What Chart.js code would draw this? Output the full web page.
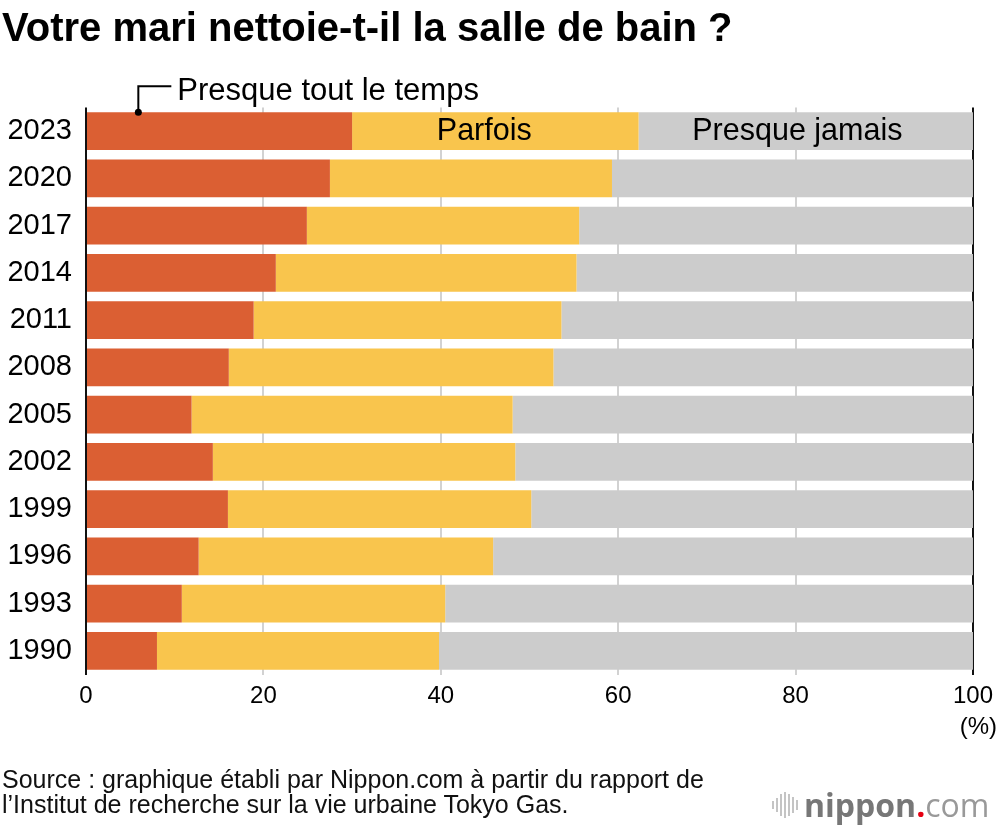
<!DOCTYPE html>
<html>
<head>
<meta charset="utf-8">
<script src="https://cdn.jsdelivr.net/npm/chart.js@4"></script>
<style>
  body { margin: 0; background: #fff; font-family: "Liberation Sans", Arial, Helvetica, sans-serif; }
  #wrap { position: relative; width: 1000px; height: 830px; overflow: hidden; }
  #chart { position: absolute; left: 0; top: 0; }
  #title { position: absolute; left: 2px; top: 7px; font-size: 40px; font-weight: bold; line-height: 1; color: #000; white-space: nowrap; }
  #source { position: absolute; left: 2px; top: 767px; font-size: 25px; line-height: 25px; color: #111; white-space: nowrap; }
  #logo { position: absolute; left: 772px; top: 788px; height: 34px; display: flex; align-items: center; white-space: nowrap; font-family: "Open Sans", sans-serif; }
  #logo .bars { display: flex; align-items: center; gap: 2px; margin-right: 6px; }
  #logo .bars span { display: block; width: 2px; background: #c4c4c4; }
  #logo .n { font-size: 32px; font-weight: bold; color: #777; line-height: 1; }
  #logo .dot { font-size: 32px; font-weight: bold; color: #e60012; line-height: 1; }
  #logo .c { font-size: 32px; color: #999; line-height: 1; }
</style>
</head>
<body>
<div id="wrap">
  <canvas id="chart" width="1000" height="830"></canvas>
  <div id="title">Votre mari nettoie-t-il la salle de bain ?</div>
  <div id="source">Source : graphique établi par Nippon.com à partir du rapport de<br>l’Institut de recherche sur la vie urbaine Tokyo Gas.</div>
  <div id="logo">
    <div class="bars">
      <span style="height:8px"></span><span style="height:14px"></span><span style="height:22px"></span><span style="height:26px"></span><span style="height:22px"></span><span style="height:16px"></span><span style="height:10px"></span>
    </div>
    <span class="n">nippon</span><span class="dot">.</span><span class="c">com</span>
  </div>
</div>
<script>
// survey years, top to bottom
const years = ["2023", "2020", "2017", "2014", "2011", "2008", "2005", "2002", "1999", "1996", "1993", "1990"];
// % of answers
const almostAlways = [30.0, 27.5, 24.9, 21.4, 18.9, 16.1, 11.9, 14.3, 16.0, 12.7, 10.8, 8.0];
const sometimes = [32.3, 31.8, 30.7, 33.9, 34.7, 36.6, 36.2, 34.1, 34.2, 33.2, 29.7, 31.8];
const almostNever = [37.7, 40.7, 44.4, 44.7, 46.4, 47.3, 51.9, 51.6, 49.8, 54.1, 59.5, 60.2];
const xTicks = [0, 20, 40, 60, 80, 100];

Chart.defaults.font.family = '"Liberation Sans", Arial, Helvetica, sans-serif';
Chart.defaults.color = "#111";

// labels written inside / above the 2023 bar
const labelPlugin = {
    id: "labels",
    afterDatasetsDraw(chart) {
        const c = chart.ctx;
        const x = chart.scales.x;
        const y = chart.scales.y;
        const bar = chart.getDatasetMeta(0).data[0];
        const top = bar.y - bar.height / 2;
        c.save();
        c.fillStyle = "#000";
        c.font = '30.5px "Liberation Sans", Arial, sans-serif';
        c.textBaseline = "middle";
        c.textAlign = "center";
        c.fillText("Parfois", x.getPixelForValue(44.9), bar.y);
        c.fillText("Presque jamais", x.getPixelForValue(80.2), bar.y);

        // leader for the first series
        const px = x.getPixelForValue(5.9);
        c.strokeStyle = "#000";
        c.lineWidth = 2;
        c.beginPath();
        c.moveTo(px, top);
        c.lineTo(px, top - 26);
        c.lineTo(px + 33, top - 26);
        c.stroke();
        c.beginPath();
        c.arc(px, top, 3.5, 0, Math.PI * 2);
        c.fill();
        c.textAlign = "left";
        c.textBaseline = "alphabetic";
        c.font = '31px "Liberation Sans", Arial, sans-serif';
        c.fillText("Presque tout le temps", px + 39, top - 12);

        // unit under the last tick
        c.font = '24px "Liberation Sans", Arial, sans-serif';
        c.textAlign = "right";
        c.textBaseline = "middle";
        c.fillText("(%)", 997, y.bottom + 53);
        c.restore();
    }
};

new Chart(document.getElementById("chart"), {
    type: "bar",
    plugins: [labelPlugin],
    data: {
        labels: years,
        datasets: [
            { label: "Presque tout le temps", data: almostAlways, backgroundColor: "#db5f33" },
            { label: "Parfois", data: sometimes, backgroundColor: "#f9c54d" },
            { label: "Presque jamais", data: almostNever, backgroundColor: "#cccccc" }
        ]
    },
    options: {
        indexAxis: "y",
        responsive: false,
        animation: false,
        events: [],
        datasets: {
            bar: { categoryPercentage: 1, barPercentage: 0.804, borderWidth: 0 }
        },
        layout: { padding: { left: 0, right: 25.5, top: 107.5, bottom: 115.5 } },
        plugins: {
            legend: { display: false },
            tooltip: { enabled: false }
        },
        scales: {
            x: {
                stacked: true,
                min: 0,
                max: 100,
                afterFit: (s) => { s.height = 40; },
                afterBuildTicks: (s) => { s.ticks = xTicks.map(v => ({ value: v })); },
                border: { display: false },
                grid: {
                    drawTicks: false,
                    color: (ctx) => (ctx.tick.value === 0 || ctx.tick.value === 100) ? "#111" : "#d2d2d2",
                    lineWidth: 2
                },
                ticks: { padding: 7, font: { size: 24 }, color: "#000" }
            },
            y: {
                stacked: true,
                afterFit: (s) => { s.width = 86; },
                border: { display: false },
                grid: { display: false, drawTicks: false },
                ticks: { padding: 14, font: { size: 29 }, color: "#000" }
            }
        }
    }
});
</script>
</body>
</html>
